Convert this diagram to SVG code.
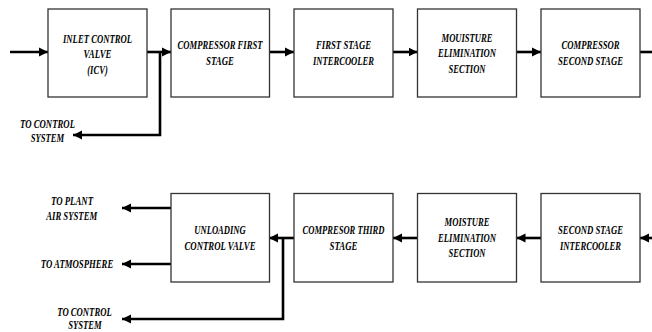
<svg xmlns="http://www.w3.org/2000/svg" width="652" height="332" viewBox="0 0 652 332">
<style>
.box{fill:#fff;stroke:#333;stroke-width:1.3}
.t{font-family:"Liberation Serif","Times New Roman",serif;font-weight:bold;font-style:italic;font-size:12px;fill:#000;text-anchor:middle}
.w{fill:none;stroke:#000;stroke-width:2.6}
</style>
<defs>
<marker id="ah" markerUnits="userSpaceOnUse" markerWidth="10" markerHeight="10" viewBox="0 0 10 10" refX="9" refY="5" orient="auto">
<path d="M0,0.5 L9,5 L0,9.5 Z" fill="#000"/>
</marker>
</defs>
<rect width="652" height="332" fill="#fff"/>
<g id="connectors">
<line class="w" x1="10" y1="52" x2="48" y2="52" marker-end="url(#ah)"/>
<line class="w" x1="147" y1="52" x2="171" y2="52" marker-end="url(#ah)"/>
<polyline class="w" points="160,52 160,135 73,135" marker-end="url(#ah)"/>
<line class="w" x1="269" y1="52" x2="294" y2="52" marker-end="url(#ah)"/>
<line class="w" x1="393" y1="52" x2="417.5" y2="52" marker-end="url(#ah)"/>
<line class="w" x1="516.5" y1="52" x2="541" y2="52" marker-end="url(#ah)"/>
<line class="w" x1="640" y1="52" x2="652" y2="52"/>
<line class="w" x1="652" y1="238" x2="640" y2="238" marker-end="url(#ah)"/>
<line class="w" x1="541" y1="238" x2="516.5" y2="238" marker-end="url(#ah)"/>
<line class="w" x1="417.5" y1="238" x2="393" y2="238" marker-end="url(#ah)"/>
<line class="w" x1="294" y1="238" x2="269" y2="238" marker-end="url(#ah)"/>
<polyline class="w" points="283,238 283,319 122,319" marker-end="url(#ah)"/>
<line class="w" x1="171" y1="208" x2="122" y2="208" marker-end="url(#ah)"/>
<line class="w" x1="171" y1="264" x2="122" y2="264" marker-end="url(#ah)"/>
</g>
<g id="icv">
<rect class="box" x="48" y="9" width="99" height="88"/>
<text class="t" x="97.5" y="42.5" textLength="69" lengthAdjust="spacingAndGlyphs">INLET CONTROL</text>
<text class="t" x="97.5" y="57.5" textLength="28" lengthAdjust="spacingAndGlyphs">VALVE</text>
<text class="t" x="97.5" y="74" textLength="20.5" lengthAdjust="spacingAndGlyphs">(ICV)</text>
</g>
<g id="comp1">
<rect class="box" x="171" y="9" width="98.5" height="88"/>
<text class="t" x="220" y="49" textLength="85" lengthAdjust="spacingAndGlyphs">COMPRESSOR FIRST</text>
<text class="t" x="220" y="65" textLength="28" lengthAdjust="spacingAndGlyphs">STAGE</text>
</g>
<g id="ic1">
<rect class="box" x="294" y="9" width="99" height="88"/>
<text class="t" x="343.5" y="49" textLength="55" lengthAdjust="spacingAndGlyphs">FIRST STAGE</text>
<text class="t" x="343.5" y="65" textLength="61" lengthAdjust="spacingAndGlyphs">INTERCOOLER</text>
</g>
<g id="mes1">
<rect class="box" x="417.5" y="9" width="99" height="88"/>
<text class="t" x="467" y="42" textLength="51" lengthAdjust="spacingAndGlyphs">MOUISTURE</text>
<text class="t" x="467" y="57.3" textLength="58" lengthAdjust="spacingAndGlyphs">ELIMINATION</text>
<text class="t" x="467" y="72.7" textLength="37" lengthAdjust="spacingAndGlyphs">SECTION</text>
</g>
<g id="comp2">
<rect class="box" x="541" y="9" width="99" height="88"/>
<text class="t" x="590.5" y="49" textLength="58" lengthAdjust="spacingAndGlyphs">COMPRESSOR</text>
<text class="t" x="590.5" y="65" textLength="65" lengthAdjust="spacingAndGlyphs">SECOND STAGE</text>
</g>
<g id="ic2">
<rect class="box" x="541" y="193.5" width="99" height="88.5"/>
<text class="t" x="590.5" y="234" textLength="65" lengthAdjust="spacingAndGlyphs">SECOND STAGE</text>
<text class="t" x="590.5" y="250" textLength="61" lengthAdjust="spacingAndGlyphs">INTERCOOLER</text>
</g>
<g id="mes2">
<rect class="box" x="417.5" y="193.5" width="99" height="88.5"/>
<text class="t" x="467" y="225.7" textLength="45" lengthAdjust="spacingAndGlyphs">MOISTURE</text>
<text class="t" x="467" y="241.7" textLength="58" lengthAdjust="spacingAndGlyphs">ELIMINATION</text>
<text class="t" x="467" y="257.3" textLength="37" lengthAdjust="spacingAndGlyphs">SECTION</text>
</g>
<g id="comp3">
<rect class="box" x="294" y="193.5" width="99" height="88.5"/>
<text class="t" x="343.5" y="234" textLength="82" lengthAdjust="spacingAndGlyphs">COMPRESOR THIRD</text>
<text class="t" x="343.5" y="250" textLength="28" lengthAdjust="spacingAndGlyphs">STAGE</text>
</g>
<g id="ucv">
<rect class="box" x="171" y="193.5" width="98.5" height="88.5"/>
<text class="t" x="220" y="234" textLength="51.5" lengthAdjust="spacingAndGlyphs">UNLOADING</text>
<text class="t" x="220" y="250" textLength="71" lengthAdjust="spacingAndGlyphs">CONTROL VALVE</text>
</g>
<g id="labels">
<text class="t" x="47.5" y="127.5" textLength="55" lengthAdjust="spacingAndGlyphs">TO CONTROL</text>
<text class="t" x="47.5" y="142" textLength="33.5" lengthAdjust="spacingAndGlyphs">SYSTEM</text>
<text class="t" x="72" y="205" textLength="42" lengthAdjust="spacingAndGlyphs">TO PLANT</text>
<text class="t" x="71.7" y="220" textLength="51" lengthAdjust="spacingAndGlyphs">AIR SYSTEM</text>
<text class="t" x="77" y="268" textLength="72.5" lengthAdjust="spacingAndGlyphs">TO ATMOSPHERE</text>
<text class="t" x="84.5" y="316" textLength="54.5" lengthAdjust="spacingAndGlyphs">TO CONTROL</text>
<text class="t" x="85" y="328.5" textLength="33.5" lengthAdjust="spacingAndGlyphs">SYSTEM</text>
</g>
</svg>
